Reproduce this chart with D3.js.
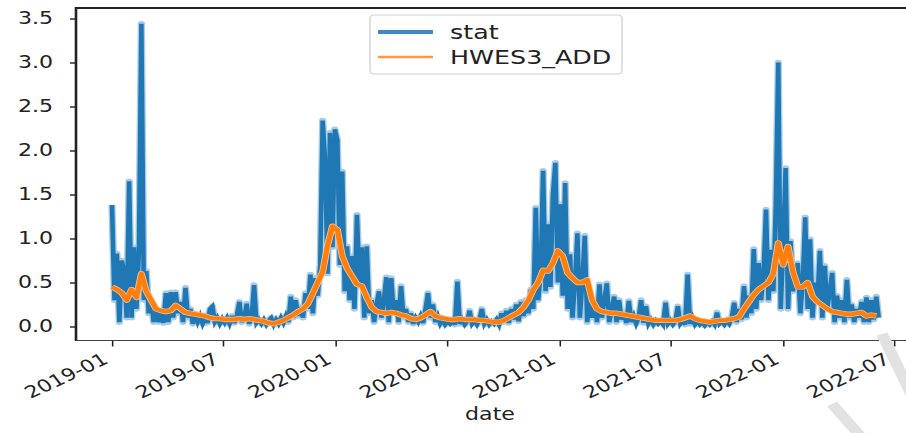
<!DOCTYPE html>
<html><head><meta charset="utf-8">
<script src="https://cdn.jsdelivr.net/npm/d3@7"></script>
<style>html,body{margin:0;padding:0;background:#fff;overflow:hidden}</style>
</head><body>
<svg id="chart" width="906" height="433"></svg>
<script>
// ---------- data ----------
const statStart = "2019-01-01";
const statStepDays = 4;
const statValues = [
1.38,0.3,0.83,0.05,0.75,0.62,0.1,1.65,0.1,0.9,
0.2,0.87,3.44,0.3,0.63,0.15,0.3,0.05,0.2,0.05,
0.15,0.04,0.38,0.05,0.39,0.1,0.39,0.15,0.28,0.05,
0.44,0.1,0.2,0.03,0.15,0.05,0.12,0.03,0.1,0.04,
0.2,0.23,0.05,0.1,0.03,0.09,0.04,0.1,0.03,0.12,
0.04,0.13,0.28,0.05,0.1,0.26,0.03,0.1,0.47,0.04,
0.08,0.03,0.08,0.02,0.07,0.1,0.02,0.08,0.03,0.1,
0.04,0.12,0.05,0.34,0.1,0.3,0.12,0.22,0.1,0.38,
0.2,0.59,0.15,0.55,0.35,0.7,2.34,1.88,0.6,2.2,
0.9,2.24,2.12,0.7,1.76,0.4,0.91,0.3,0.8,0.2,
1.27,0.5,0.9,0.1,0.91,0.15,0.3,0.05,0.25,0.4,
0.1,0.3,0.56,0.05,0.55,0.15,0.3,0.05,0.46,0.1,
0.2,0.05,0.15,0.03,0.1,0.05,0.12,0.04,0.2,0.38,
0.1,0.25,0.05,0.12,0.03,0.08,0.02,0.06,0.03,0.07,
0.02,0.51,0.03,0.08,0.02,0.06,0.18,0.03,0.07,0.02,
0.08,0.2,0.03,0.08,0.02,0.06,0.03,0.08,0.02,0.15,
0.05,0.18,0.04,0.2,0.08,0.25,0.06,0.28,0.12,0.3,
0.15,0.42,0.2,1.35,0.3,0.6,1.77,0.4,1.16,0.45,
1.5,1.86,0.5,1.39,0.35,1.63,0.2,0.82,0.1,0.5,
1.06,0.1,0.5,1.03,0.05,0.35,0.1,0.3,0.05,0.48,
0.1,0.3,0.49,0.05,0.2,0.34,0.05,0.3,0.08,0.15,
0.04,0.29,0.05,0.12,0.03,0.1,0.3,0.04,0.23,0.03,
0.08,0.02,0.07,0.03,0.06,0.02,0.27,0.03,0.07,0.02,
0.06,0.23,0.03,0.07,0.02,0.59,0.03,0.1,0.02,0.06,
0.02,0.05,0.01,0.05,0.02,0.06,0.02,0.16,0.03,0.06,
0.02,0.07,0.03,0.1,0.27,0.05,0.2,0.08,0.46,0.1,
0.35,0.15,0.88,0.2,0.72,0.3,0.6,1.33,0.3,0.87,
0.4,1.39,3.0,0.2,0.9,1.8,0.2,0.97,0.4,0.6,
0.72,0.15,0.5,1.24,0.2,0.99,0.1,0.5,0.3,0.86,
0.1,0.69,0.2,0.4,0.61,0.05,0.35,0.1,0.3,0.05,
0.53,0.1,0.25,0.05,0.2,0.1,0.28,0.05,0.33,0.05,
0.3,0.08,0.34,0.1
];
const hwesStart = "2019-01-01";
const hwesStepDays = 8;
const hwesValues = [
0.45,0.42,0.38,0.3,0.42,0.33,0.6,0.4,0.3,0.2,
0.18,0.17,0.18,0.24,0.2,0.16,0.15,0.14,0.13,0.12,
0.1,0.09,0.09,0.08,0.08,0.08,0.09,0.08,0.09,0.08,
0.07,0.06,0.04,0.03,0.05,0.07,0.1,0.13,0.17,0.2,
0.26,0.38,0.5,0.62,0.92,1.14,1.1,0.8,0.66,0.57,
0.48,0.46,0.33,0.22,0.17,0.16,0.15,0.16,0.15,0.13,
0.12,0.09,0.08,0.1,0.13,0.17,0.12,0.1,0.09,0.08,
0.08,0.09,0.08,0.08,0.08,0.07,0.07,0.06,0.05,0.05,
0.07,0.1,0.13,0.16,0.22,0.3,0.42,0.5,0.64,0.63,
0.72,0.86,0.8,0.61,0.55,0.5,0.5,0.53,0.3,0.2,
0.17,0.16,0.15,0.15,0.14,0.13,0.12,0.11,0.1,0.09,
0.08,0.07,0.07,0.07,0.07,0.07,0.08,0.1,0.12,0.09,
0.07,0.06,0.05,0.06,0.07,0.07,0.08,0.09,0.11,0.2,
0.28,0.36,0.42,0.46,0.5,0.6,0.95,0.7,0.91,0.62,
0.45,0.45,0.5,0.34,0.28,0.24,0.2,0.17,0.16,0.15,
0.14,0.14,0.15,0.16,0.12,0.13,0.12
];
const yTicks = [0, 0.5, 1.0, 1.5, 2.0, 2.5, 3.0, 3.5];
const xTickLabels = ["2019-01","2019-07","2020-01","2020-07","2021-01","2021-07","2022-01","2022-07"];
const seriesNames = ["stat", "HWES3_ADD"];
const xAxisLabel = "date";

// ---------- layout (the reference is horizontally stretched) ----------
const SX = 1.3;
const W = 906 / SX, H = 433;
const L = 76 / SX, R = 925 / SX, T = 8, B = 340.5;
const FONT = "DejaVu Sans, sans-serif";

const svg = d3.select("#chart")
  .attr("viewBox", `0 0 ${W} ${H}`)
  .attr("preserveAspectRatio", "none");

const parseDay = d3.utcParse("%Y-%m-%d");
const parseMonth = d3.utcParse("%Y-%m");
const fmtMonth = d3.utcFormat("%Y-%m");

const x = d3.scaleUtc()
  .domain([parseMonth("2019-01"), parseMonth("2022-07")])
  .range([112 / SX, 894 / SX]);
const y = d3.scaleLinear().domain([0, 3.5]).range([326.5, 18.5]);

const statData = statValues.map((v, i) => ({ date: d3.utcDay.offset(parseDay(statStart), i * statStepDays), v }));
const hwesData = hwesValues.map((v, i) => ({ date: d3.utcDay.offset(parseDay(hwesStart), i * hwesStepDays), v }));

svg.append("defs").append("clipPath").attr("id", "plotclip")
  .append("rect").attr("x", L).attr("y", T).attr("width", R - L).attr("height", B - T);

const line = d3.line().x(d => x(d.date)).y(d => y(d.v));

const plot = svg.append("g").attr("clip-path", "url(#plotclip)");
plot.append("path").datum(statData).attr("d", line)
  .attr("fill", "none").attr("stroke", "#a9cbe6").attr("stroke-width", 5.6).attr("stroke-linejoin", "round");
plot.append("path").datum(statData).attr("d", line)
  .attr("fill", "none").attr("stroke", "#1f77b4").attr("stroke-width", 3.5).attr("stroke-linejoin", "miter");
plot.append("path").datum(hwesData).attr("d", line)
  .attr("fill", "none").attr("stroke", "#fdc08c").attr("stroke-width", 5.4).attr("stroke-linejoin", "round");
plot.append("path").datum(hwesData).attr("d", line)
  .attr("fill", "none").attr("stroke", "#ff7f0e").attr("stroke-width", 4).attr("stroke-linejoin", "round");

// ---------- axes ----------
const yAxis = svg.append("g").attr("transform", `translate(${L},0)`)
  .call(d3.axisLeft(y).tickValues(yTicks).tickFormat(d3.format(".1f"))
    .tickSize(6 / SX).tickPadding(13).tickSizeOuter(0));
yAxis.select(".domain").remove();
yAxis.selectAll(".tick line").attr("stroke", "#222").attr("stroke-width", 1.4);
yAxis.selectAll(".tick text").attr("font-family", FONT).attr("font-size", 17).attr("fill", "#222");

const xAxis = svg.append("g").attr("transform", `translate(0,${B})`)
  .call(d3.axisBottom(x).tickValues(xTickLabels.map(parseMonth)).tickFormat(fmtMonth)
    .tickSize(6).tickSizeOuter(0));
xAxis.select(".domain").remove();
xAxis.selectAll(".tick line").attr("stroke", "#222").attr("stroke-width", 1.2);
xAxis.selectAll(".tick text")
  .attr("font-family", FONT).attr("font-size", 17).attr("fill", "#222")
  .attr("x", 0).attr("y", 0).attr("dy", 0)
  .attr("text-anchor", "end")
  .attr("transform", `translate(${-3 / SX},22) rotate(-31)`);

// frame
svg.append("line").attr("x1", L).attr("x2", L).attr("y1", T - 1).attr("y2", B + 0.5)
  .attr("stroke", "#222").attr("stroke-width", 2);
svg.append("line").attr("x1", L).attr("x2", W + 5).attr("y1", T).attr("y2", T)
  .attr("stroke", "#222").attr("stroke-width", 1.8);
svg.append("line").attr("x1", L).attr("x2", W + 5).attr("y1", B).attr("y2", B)
  .attr("stroke", "#444").attr("stroke-width", 1.2);

svg.append("text").attr("x", 490 / SX).attr("y", 420).attr("text-anchor", "middle")
  .attr("font-family", FONT).attr("font-size", 17).attr("fill", "#222").text(xAxisLabel);

// ---------- legend ----------
const lg = svg.append("g");
lg.append("rect").attr("x", 370 / SX).attr("y", 15).attr("width", (622 - 370) / SX).attr("height", 59)
  .attr("rx", 3).attr("fill", "#fff").attr("fill-opacity", 0.85).attr("stroke", "#d2d2d2").attr("stroke-width", 1);
const legendColors = ["#3d8ac4", "#f99a48"];
const legendWidths = [4.2, 2.6];
seriesNames.forEach((name, i) => {
  const yy = 32 + i * 25;
  lg.append("line").attr("x1", 378 / SX).attr("x2", 433 / SX).attr("y1", yy).attr("y2", yy)
    .attr("stroke", legendColors[i]).attr("stroke-width", legendWidths[i]);
  lg.append("text").attr("x", 450 / SX).attr("y", yy + 7.5)
    .attr("font-family", FONT).attr("font-size", 19.5).attr("fill", "#222").text(name);
});

// ---------- faint watermark strokes ----------
const wm = svg.append("g").attr("stroke", "#e2e2e2").attr("stroke-width", 9).attr("stroke-linecap", "butt");
wm.append("line").attr("x1", 882 / SX).attr("y1", 334).attr("x2", 915 / SX).attr("y2", 402);
wm.append("line").attr("x1", 832 / SX).attr("y1", 404).attr("x2", 864 / SX).attr("y2", 440);
</script>
</body></html>
